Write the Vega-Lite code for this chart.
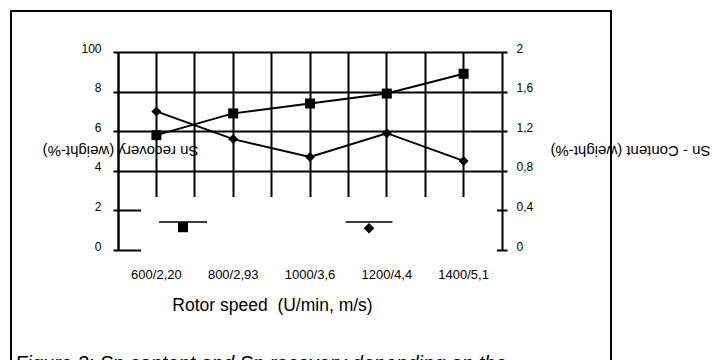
{
  "$schema": "https://vega.github.io/schema/vega-lite/v6.json",
  "width": 600,
  "height": 360,
  "autosize": {"type": "none"},
  "padding": {"left": 11, "top": 11, "right": 104, "bottom": 0},
  "background": "white",
  "config": {
    "view": {"stroke": "black", "strokeWidth": 2},
    "font": "Liberation Sans"
  },
  "title": {
    "text": ["Figure 3: Sn content and Sn recovery depending on the", "rotor speed"],
    "orient": "bottom",
    "frame": "group",
    "anchor": "start",
    "offset": -17,
    "dx": 4,
    "fontSize": 20,
    "fontStyle": "italic",
    "fontWeight": "normal",
    "color": "black"
  },
  "data": {
    "values": [
      {"speed": "600/2,20", "series": "Sn recovery", "value": 58},
      {"speed": "800/2,93", "series": "Sn recovery", "value": 69},
      {"speed": "1000/3,6", "series": "Sn recovery", "value": 74},
      {"speed": "1200/4,4", "series": "Sn recovery", "value": 79},
      {"speed": "1400/5,1", "series": "Sn recovery", "value": 89},
      {"speed": "600/2,20", "series": "Sn - Content", "value": 1.40},
      {"speed": "800/2,93", "series": "Sn - Content", "value": 1.12},
      {"speed": "1000/3,6", "series": "Sn - Content", "value": 0.94},
      {"speed": "1200/4,4", "series": "Sn - Content", "value": 1.18},
      {"speed": "1400/5,1", "series": "Sn - Content", "value": 0.90}
    ]
  },
  "layer": [
    {
      "transform": [{"filter": "datum.series === 'Sn recovery'"}],
      "encoding": {
        "y": {
          "field": "value",
          "type": "quantitative",
          "scale": {"domain": [0, 100], "range": [239, 41], "nice": false, "zero": true},
          "axis": {
            "orient": "left",
            "offset": -107,
            "values": [0, 20, 40, 60, 80, 100],
            "labelExpr": "datum.value == 100 ? '100' : '' + (datum.value / 10)",
            "grid": true,
            "gridColor": "black",
            "gridWidth": 2,
            "gridOpacity": 1,
            "domain": true,
            "domainColor": "black",
            "domainWidth": 2,
            "ticks": true,
            "tickSize": 5,
            "tickColor": "black",
            "tickWidth": 2,
            "labelFontSize": 12,
            "labelColor": "black",
            "labelPadding": 12,
            "labelBaseline": "alphabetic",
            "labelAlign": "right",
            "title": "Sn recovery (weight-%)",
            "titleAngle": 180,
            "titleX": 2,
            "titleY": 139,
            "titleAlign": "center",
            "titleBaseline": "middle",
            "titleFontSize": 15,
            "titleFontWeight": "normal",
            "titleColor": "black"
          }
        }
      },
      "layer": [
        {
          "mark": {"type": "line", "color": "black", "strokeWidth": 2},
          "encoding": {
            "x": {
              "field": "speed",
              "type": "ordinal",
              "sort": ["600/2,20", "800/2,93", "1000/3,6", "1200/4,4", "1400/5,1"],
              "scale": {"type": "band", "paddingInner": 0, "paddingOuter": 0, "range": [107, 491]},
              "axis": {
                "orient": "bottom",
                "offset": -121,
                "grid": false,
                "bandPosition": 0.5,
                "domain": false,
                "ticks": false,
                "tickSize": 0,
                "labelAngle": 0,
                "labelPadding": 28,
                "labelBaseline": "alphabetic",
                "labelFontSize": 13,
                "labelColor": "black",
                "title": "Rotor speed \u00a0(U/min, m/s)",
                "titleX": 261,
                "titleY": 60,
                "titleAlign": "center",
                "titleBaseline": "alphabetic",
                "titleFontSize": 17.5,
                "titleFontWeight": "normal",
                "titleColor": "black"
              }
            }
          }
        },
        {
          "mark": {"type": "point", "filled": true, "opacity": 1, "size": 100, "shape": "square"},
          "encoding": {
            "x": {
              "field": "speed",
              "type": "ordinal",
              "sort": ["600/2,20", "800/2,93", "1000/3,6", "1200/4,4", "1400/5,1"],
              "scale": {"type": "band", "paddingInner": 0, "paddingOuter": 0, "range": [107, 491]},
              "axis": {
                "orient": "top",
                "grid": true,
                "gridColor": "black",
                "gridWidth": 2,
                "gridOpacity": 1,
                "bandPosition": 0.5,
                "domain": false,
                "ticks": false,
                "labels": false,
                "title": null
              }
            },
            "color": {
              "field": "series",
              "type": "nominal",
              "scale": {"range": ["black"]},
              "legend": {
                "orient": "none",
                "legendX": 130,
                "legendY": 186,
                "title": null,
                "fillColor": "white",
                "padding": 17,
                "symbolType": "M-4.8,0H4.8M-0.85,0.2H0.85V1.9H-0.85Z",
                "symbolSize": 100,
                "symbolOffset": 17,
                "symbolFillColor": "black",
                "symbolStrokeColor": "black",
                "symbolStrokeWidth": 1.5,
                "symbolOpacity": 1,
                "labelFontSize": 16,
                "labelColor": "white",
                "labelOffset": 20
              }
            }
          }
        }
      ],
      "resolve": {"axis": {"x": "independent"}}
    },
    {
      "transform": [{"filter": "datum.series === 'Sn - Content'"}],
      "encoding": {
        "x": {
          "field": "speed",
          "type": "ordinal",
          "sort": ["600/2,20", "800/2,93", "1000/3,6", "1200/4,4", "1400/5,1"],
          "scale": {"type": "band", "paddingInner": 0, "paddingOuter": 0, "range": [107, 491]},
          "axis": {
            "orient": "top",
            "grid": true,
            "gridColor": "black",
            "gridWidth": 2,
            "gridOpacity": 1,
            "bandPosition": 0,
            "domain": false,
            "ticks": false,
            "labels": false,
            "title": null
          }
        },
        "y": {
          "field": "value",
          "type": "quantitative",
          "scale": {"domain": [0, 2], "range": [239, 41], "nice": false, "zero": true},
          "axis": {
            "orient": "right",
            "offset": -109,
            "values": [0, 0.4, 0.8, 1.2, 1.6, 2],
            "labelExpr": "replace(format(datum.value, '~g'), '.', ',')",
            "grid": false,
            "domain": true,
            "domainColor": "black",
            "domainWidth": 2,
            "ticks": true,
            "tickSize": 5,
            "tickColor": "black",
            "tickWidth": 2,
            "labelFontSize": 12,
            "labelColor": "black",
            "labelPadding": 9,
            "labelBaseline": "alphabetic",
            "labelAlign": "left",
            "title": "Sn - Content (weight-%)",
            "titleAngle": 180,
            "titleX": 128,
            "titleY": 139,
            "titleAlign": "center",
            "titleBaseline": "middle",
            "titleFontSize": 15,
            "titleFontWeight": "normal",
            "titleColor": "black"
          }
        }
      },
      "layer": [
        {"mark": {"type": "line", "color": "black", "strokeWidth": 2}},
        {
          "mark": {"type": "point", "filled": true, "opacity": 1, "size": 100, "shape": "diamond"},
          "encoding": {
            "fill": {
              "field": "series",
              "type": "nominal",
              "scale": {"range": ["black"]},
              "legend": {
                "orient": "none",
                "legendX": 289,
                "legendY": 186,
                "title": null,
                "fillColor": "white",
                "padding": 17,
                "symbolType": "M-4.7,0H4.7M0,0.4L0.85,1.25L0,2.1L-0.85,1.25Z",
                "symbolSize": 100,
                "symbolOffset": 44,
                "symbolFillColor": "black",
                "symbolStrokeColor": "black",
                "symbolStrokeWidth": 1.5,
                "symbolOpacity": 1,
                "labelFontSize": 16,
                "labelColor": "white",
                "labelOffset": 13
              }
            }
          }
        }
      ]
    }
  ],
  "resolve": {"scale": {"y": "independent"}, "axis": {"x": "independent", "y": "independent"}}
}
